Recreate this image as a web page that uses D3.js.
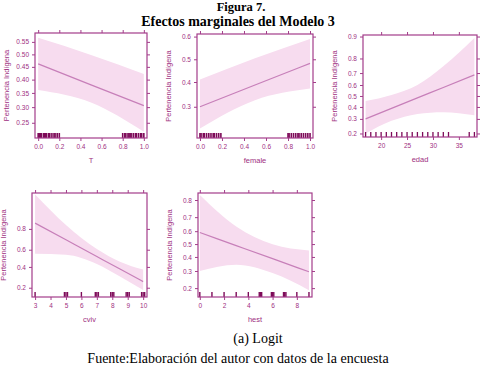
<!DOCTYPE html>
<html>
<head>
<meta charset="utf-8">
<script src="https://cdn.jsdelivr.net/npm/d3@7"></script>
<style>
  body { margin: 0; background: #fff; }
  svg { display: block; }
  .tick text { font-family: "Liberation Sans", Arial, sans-serif; }
</style>
</head>
<body>
<div id="chart"></div>
<script>
// values (probabilities)
const tGrid = [0, 0.5, 1];
const tFit = [0.462, 0.380, 0.305];
const tUpper = [0.566, 0.498, 0.422];
const tLower = [0.361, 0.316, 0.224];
const tRug = [0, 0.01, 0.02, 0.03, 0.05, 0.06, 0.07, 0.08, 0.1, 0.11, 0.13, 0.15, 0.16, 0.18, 0.2,
  0.8, 0.82, 0.83, 0.85, 0.86, 0.87, 0.88, 0.9, 0.92, 0.93, 0.95, 0.97, 0.98, 1];

const femGrid = [0, 0.5, 1];
const femFit = [0.30, 0.387, 0.482];
const femUpper = [0.411, 0.505, 0.59];
const femLower = [0.225, 0.325, 0.372];
const femRug = [0, 0.01, 0.03, 0.04, 0.06, 0.08, 0.1, 0.12, 0.13, 0.15, 0.17, 0.19,
  0.8, 0.81, 0.83, 0.85, 0.87, 0.89, 0.9, 0.92, 0.94, 0.96, 0.98, 1];

const edadGrid = [17, 22, 27, 32, 38];
const edadFit = [0.30, 0.387, 0.482, 0.578, 0.686];
const edadUpper = [0.454, 0.51, 0.60, 0.75, 0.895];
const edadLower = [0.20, 0.285, 0.34, 0.355, 0.33];
const edadRug = [17, 18, 19, 20, 21, 22, 23, 24, 25, 26, 27, 28, 29, 30, 31, 32, 33, 37, 38];

const cvivGrid = [3, 5, 7, 8.5, 10];
const cvivFit = [0.84, 0.705, 0.521, 0.376, 0.25];
const cvivUpper = [0.953, 0.828, 0.607, 0.46, 0.37];
const cvivLower = [0.553, 0.543, 0.434, 0.298, 0.183];
const cvivRug = [3, 4.9, 5, 5.1, 6, 6.9, 7, 7.1, 7.9, 8, 8.1, 8.9, 9, 9.1, 9.9, 10, 10.1];

const hestGrid = [0, 3, 6, 9];
const hestFit = [0.59, 0.488, 0.387, 0.295];
const hestUpper = [0.824, 0.635, 0.498, 0.45];
const hestLower = [0.30, 0.343, 0.287, 0.19];
const hestRug = [0, 1, 2, 3, 4, 4.9, 5, 5.1, 5.9, 6, 6.1, 6.9, 7, 7.1, 8, 9];

const yTicksT = [0.25, 0.30, 0.35, 0.40, 0.45, 0.50, 0.55];
const yTicksFem = [0.3, 0.4, 0.5, 0.6];
const yTicksEdad = [0.2, 0.3, 0.4, 0.5, 0.6, 0.7, 0.8, 0.9];
const yTicksCviv = [0.2, 0.4, 0.6, 0.8];
const yTicksHest = [0.2, 0.3, 0.4, 0.5, 0.6, 0.7, 0.8];

const width = 488, height = 367;
const axisCol = "#a33d8a", textCol = "#a0307f", lineCol = "#c77fb9",
  bandCol = "#f7dcef", rugCol = "#7d0a58";

const logit = p => Math.log(p / (1 - p));
const invlogit = v => 1 / (1 + Math.exp(-v));

const svg = d3.select("#chart").append("svg")
  .attr("width", width).attr("height", height);

const panels = [
  {box: [35, 33, 147, 138], xDom: [-0.03, 1.03], yDom: [0.207, 0.585], xTicks: [0, 0.2, 0.4, 0.6, 0.8, 1], xFmt: ".1f",
   yTicks: yTicksT, yFmt: ".2f", grid: tGrid, fit: tFit, up: tUpper, lo: tLower, rug: tRug, name: "T", rugW: 1.6},
  {box: [197, 34, 313, 138], xDom: [-0.027, 1.027], yDom: [0.197, 0.611], xTicks: [0, 0.2, 0.4, 0.6, 0.8, 1], xFmt: ".1f",
   yTicks: yTicksFem, yFmt: ".1f", grid: femGrid, fit: femFit, up: femUpper, lo: femLower, rug: femRug, name: "female", rugW: 1.6},
  {box: [363, 35, 477, 137], xDom: [16.5, 38.5], yDom: [0.180, 0.905], xTicks: [20, 25, 30, 35], xFmt: "d",
   yTicks: yTicksEdad, yFmt: ".1f", grid: edadGrid, fit: edadFit, up: edadUpper, lo: edadLower, rug: edadRug, name: "edad", rugW: 1.3},
  {box: [32, 193, 147, 297], xDom: [2.8, 10.25], yDom: [0.139, 0.956], xTicks: [3, 4, 5, 6, 7, 8, 9, 10], xFmt: "d",
   yTicks: yTicksCviv, yFmt: ".1f", grid: cvivGrid, fit: cvivFit, up: cvivUpper, lo: cvivLower, rug: cvivRug, name: "cviv", rugW: 1.4},
  {box: [198, 193, 312, 297], xDom: [-0.15, 9.25], yDom: [0.159, 0.833], xTicks: [0, 2, 4, 6, 8], xFmt: "d",
   yTicks: yTicksHest, yFmt: ".1f", grid: hestGrid, fit: hestFit, up: hestUpper, lo: hestLower, rug: hestRug, name: "hest", rugW: 1.4}
];

panels.forEach(p => {
  const [x0, y0, x1, y1] = p.box;
  const x = d3.scaleLinear().domain(p.xDom).range([x0, x1]);
  const y = d3.scaleLinear().domain(p.yDom.map(logit)).range([y1, y0]);
  const g = svg.append("g");

  const pts = p.grid.map((v, i) => ({x: v, fit: p.fit[i], up: p.up[i], lo: p.lo[i]}));

  // confidence band
  g.append("path")
    .datum(pts)
    .attr("fill", bandCol)
    .attr("d", d3.area().curve(d3.curveMonotoneX)
      .x(d => x(d.x)).y0(d => y(logit(d.lo))).y1(d => y(logit(d.up))));

  // fitted line
  g.append("path")
    .datum(pts)
    .attr("fill", "none")
    .attr("stroke", lineCol)
    .attr("stroke-width", 1.2)
    .attr("d", d3.line().curve(d3.curveMonotoneX).x(d => x(d.x)).y(d => y(logit(d.fit))));

  // rug
  g.selectAll(".rug").data(p.rug).join("line")
    .attr("x1", d => x(d)).attr("x2", d => x(d))
    .attr("y1", y1 - 5).attr("y2", y1)
    .attr("stroke", rugCol).attr("stroke-width", p.rugW);

  // box
  g.append("rect")
    .attr("x", x0).attr("y", y0).attr("width", x1 - x0).attr("height", y1 - y0)
    .attr("fill", "none").attr("stroke", axisCol).attr("stroke-width", 1.2);

  const yVals = p.yTicks.map(logit);
  const fmtY = d3.format(p.yFmt);
  const axes = [
    [d3.axisBottom(x).tickValues(p.xTicks).tickFormat(d3.format(p.xFmt)), `translate(0,${y1})`],
    [d3.axisTop(x).tickValues(p.xTicks).tickFormat(""), `translate(0,${y0})`],
    [d3.axisLeft(y).tickValues(yVals).tickFormat(v => fmtY(invlogit(v))), `translate(${x0},0)`],
    [d3.axisRight(y).tickValues(yVals).tickFormat(""), `translate(${x1},0)`]
  ];
  axes.forEach(([ax, tr]) => {
    const a = g.append("g").attr("transform", tr)
      .call(ax.tickSizeOuter(0).tickSizeInner(3).tickPadding(3));
    a.select(".domain").remove();
    a.selectAll("line").attr("stroke", axisCol);
    a.selectAll("text").attr("fill", textCol).attr("font-size", 6.5);
  });

  // axis titles
  g.append("text")
    .attr("x", (x0 + x1) / 2).attr("y", y1 + 25)
    .attr("text-anchor", "middle")
    .attr("font-family", "Liberation Sans, Arial, sans-serif")
    .attr("font-size", 7.5).attr("fill", textCol)
    .text(p.name);
  g.append("text")
    .attr("transform", `translate(${x0 - 26},${(y0 + y1) / 2}) rotate(-90)`)
    .attr("text-anchor", "middle")
    .attr("font-family", "Liberation Sans, Arial, sans-serif")
    .attr("font-size", 7.5).attr("fill", textCol)
    .text("Pertenencia Indígena");
});

// titles and captions
const serif = "Liberation Serif, Times New Roman, serif";
svg.append("text").attr("x", 241).attr("y", 11).attr("text-anchor", "middle")
  .attr("font-family", serif).attr("font-weight", "bold").attr("font-size", 12.5)
  .text("Figura 7.");
svg.append("text").attr("x", 238).attr("y", 26).attr("text-anchor", "middle")
  .attr("font-family", serif).attr("font-weight", "bold").attr("font-size", 14)
  .text("Efectos marginales del Modelo 3");
svg.append("text").attr("x", 258).attr("y", 343).attr("text-anchor", "middle")
  .attr("font-family", serif).attr("font-size", 14)
  .text("(a) Logit");
svg.append("text").attr("x", 238).attr("y", 363).attr("text-anchor", "middle")
  .attr("font-family", serif).attr("font-size", 14)
  .text("Fuente:Elaboración del autor con datos de la encuesta");
</script>
</body>
</html>
